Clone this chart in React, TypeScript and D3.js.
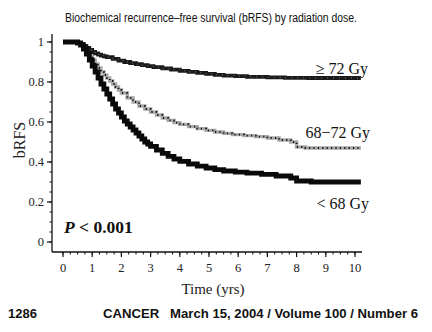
import React from "react";
import * as d3 from "d3";

const yTicks = [0, 0.2, 0.4, 0.6, 0.8, 1];
const yTickLabels = ["0", "0.2", "0.4", "0.6", "0.8", "1"];
const xTicks = [0, 1, 2, 3, 4, 5, 6, 7, 8, 9, 10];

// Kaplan-Meier step points: [years, bRFS]
const highDose: [number, number][] = [
  [0, 1], [0.3, 1], [0.5, 0.995], [0.6, 0.99], [0.7, 0.98], [0.8, 0.97], [0.9, 0.96],
  [1.0, 0.95], [1.1, 0.943], [1.2, 0.937], [1.3, 0.932], [1.4, 0.928], [1.5, 0.924],
  [1.7, 0.916], [1.9, 0.907], [2.1, 0.9], [2.3, 0.894], [2.5, 0.889], [2.7, 0.884],
  [2.9, 0.879], [3.1, 0.874], [3.4, 0.868], [3.7, 0.862], [4.0, 0.856], [4.3, 0.851],
  [4.6, 0.846], [4.9, 0.841], [5.2, 0.836], [5.5, 0.832], [5.9, 0.829], [6.3, 0.826],
  [7.0, 0.823], [7.6, 0.821], [8.4, 0.82], [10.2, 0.82]
];
const midDose: [number, number][] = [
  [0, 1], [0.4, 1], [0.5, 0.995], [0.6, 0.985], [0.7, 0.97], [0.8, 0.95], [0.9, 0.93],
  [1.0, 0.91], [1.1, 0.89], [1.2, 0.87], [1.3, 0.85], [1.4, 0.835], [1.5, 0.82],
  [1.6, 0.805], [1.7, 0.79], [1.8, 0.775], [1.9, 0.76], [2.0, 0.745], [2.2, 0.72],
  [2.4, 0.7], [2.6, 0.68], [2.8, 0.665], [3.0, 0.65], [3.2, 0.635], [3.4, 0.62],
  [3.6, 0.608], [3.8, 0.597], [4.0, 0.588], [4.3, 0.577], [4.6, 0.567], [4.9, 0.558],
  [5.2, 0.55], [5.5, 0.543], [5.8, 0.537], [6.2, 0.532], [6.6, 0.527], [7.0, 0.52],
  [7.4, 0.51], [7.8, 0.5], [8.0, 0.475], [8.3, 0.47], [10.2, 0.47]
];
const lowDose: [number, number][] = [
  [0, 1], [0.4, 1], [0.5, 0.995], [0.6, 0.985], [0.7, 0.965], [0.8, 0.94], [0.9, 0.91],
  [1.0, 0.88], [1.1, 0.85], [1.2, 0.82], [1.3, 0.79], [1.4, 0.765], [1.5, 0.74],
  [1.6, 0.715], [1.7, 0.69], [1.8, 0.665], [1.9, 0.645], [2.0, 0.625], [2.1, 0.605],
  [2.2, 0.59], [2.3, 0.575], [2.4, 0.56], [2.5, 0.545], [2.6, 0.53], [2.7, 0.515],
  [2.8, 0.5], [2.9, 0.49], [3.0, 0.478], [3.2, 0.46], [3.4, 0.443], [3.6, 0.428],
  [3.8, 0.415], [4.0, 0.403], [4.3, 0.39], [4.6, 0.379], [4.9, 0.37], [5.2, 0.362],
  [5.5, 0.355], [5.9, 0.349], [6.3, 0.344], [6.8, 0.338], [7.3, 0.33], [7.8, 0.32],
  [8.0, 0.305], [8.5, 0.3], [10.2, 0.3]
];

const seriesLabels = ["\u2265 72 Gy", "68\u221272 Gy", "< 68 Gy"];

export default function App() {
  const x = d3.scaleLinear().domain([0, 10]).range([63, 355]);
  const y = d3.scaleLinear().domain([0, 1]).range([242, 42]);
  const line = d3
    .line<[number, number]>()
    .x((d) => x(d[0]))
    .y((d) => y(d[1]))
    .curve(d3.curveStepAfter);

  const axisX = 52;
  const axisY = 252;
  const yMinor = d3.range(0, 1.0001, 0.05);
  const xMinor = d3.range(0, 10.25, 0.25);
  const serif = "'Liberation Serif', 'Times New Roman', serif";
  const sans = "'Liberation Sans Narrow', 'Liberation Sans', Arial, sans-serif";

  return (
    <svg width={432} height={332} style={{ position: "absolute", left: 0, top: 0, background: "#fff" }}>
      <rect width={432} height={332} fill="#fff" />
      <text x={211} y={22} textAnchor="middle" fontFamily={sans} fontSize={12} textLength={292} lengthAdjust="spacingAndGlyphs" fill="#111">
        Biochemical recurrence–free survival (bRFS) by radiation dose.
      </text>

      {/* Y axis */}
      <line x1={axisX} x2={axisX} y1={34} y2={axisY} stroke="#111" strokeWidth={1.3} />
      {yMinor.map((v, i) => (
        <line key={"ym" + i} x1={axisX - 2.5} x2={axisX} y1={y(v)} y2={y(v)} stroke="#111" strokeWidth={1} />
      ))}
      {yTicks.map((v, i) => (
        <g key={"yt" + i}>
          <line x1={axisX - 5} x2={axisX} y1={y(v)} y2={y(v)} stroke="#111" strokeWidth={1.2} />
          <text x={axisX - 8} y={y(v) + 4} textAnchor="end" fontFamily={serif} fontSize={12.5} fill="#222">
            {yTickLabels[i]}
          </text>
        </g>
      ))}
      <text transform={`translate(25,140) rotate(-90)`} textAnchor="middle" fontFamily={serif} fontSize={16} fill="#222">
        bRFS
      </text>

      {/* X axis */}
      <line x1={axisX} x2={362} y1={axisY} y2={axisY} stroke="#111" strokeWidth={1.3} />
      {xMinor.map((v, i) => (
        <line key={"xm" + i} x1={x(v)} x2={x(v)} y1={axisY} y2={axisY + 2.5} stroke="#111" strokeWidth={1} />
      ))}
      {xTicks.map((v, i) => (
        <g key={"xt" + i}>
          <line x1={x(v)} x2={x(v)} y1={axisY} y2={axisY + 5} stroke="#111" strokeWidth={1.2} />
          <text x={x(v)} y={axisY + 20} textAnchor="middle" fontFamily={serif} fontSize={12.5} fill="#222">
            {String(v)}
          </text>
        </g>
      ))}
      <text x={213} y={294} textAnchor="middle" fontFamily={serif} fontSize={15} fill="#222">
        Time (yrs)
      </text>

      {/* Curves */}
      <path d={line(midDose) || ""} fill="none" stroke="#a8a8a8" strokeWidth={3.4} />
      <path d={line(midDose) || ""} fill="none" stroke="#111" strokeWidth={1.8} strokeDasharray="1.2 3.2" />
      <path d={line(highDose) || ""} fill="none" stroke="#1a1a1a" strokeWidth={3.8} />
      <path d={line(highDose) || ""} fill="none" stroke="#777" strokeWidth={1} strokeDasharray="1 5" />
      <path d={line(lowDose) || ""} fill="none" stroke="#0a0a0a" strokeWidth={4.8} />

      {/* Labels */}
      <text x={368} y={74} textAnchor="end" fontFamily={serif} fontSize={16} fill="#111">
        {seriesLabels[0]}
      </text>
      <text x={370} y={138} textAnchor="end" fontFamily={serif} fontSize={16} fill="#111">
        {seriesLabels[1]}
      </text>
      <text x={369} y={209} textAnchor="end" fontFamily={serif} fontSize={16} fill="#111">
        {seriesLabels[2]}
      </text>
      <text x={64} y={233} fontFamily={serif} fontSize={17.5} fontWeight="bold" fill="#111">
        <tspan fontStyle="italic">P</tspan> &lt; 0.001
      </text>

      {/* Footer */}
      <text x={8} y={318} fontFamily={sans} fontSize={13} fontWeight="bold" fill="#111">
        1286
      </text>
      <text x={103} y={318} fontFamily={sans} fontSize={13} fontWeight="bold" fill="#111" textLength={315} lengthAdjust="spacingAndGlyphs" xmlSpace="preserve">
        CANCER   March 15, 2004 / Volume 100 / Number 6
      </text>
    </svg>
  );
}
